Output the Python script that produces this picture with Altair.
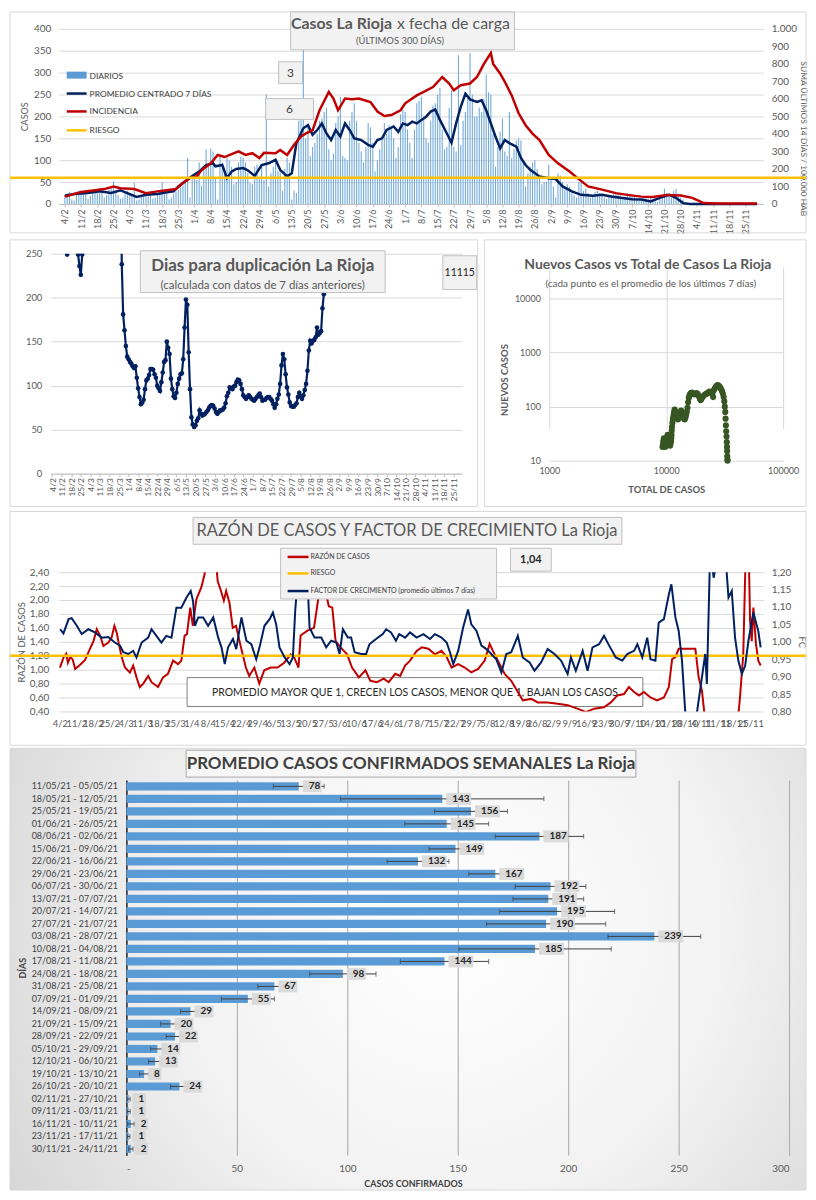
import json
import altair as alt
import pandas as pd

FONT = "Lato"
GRID = "#D9D9D9"
LBL = "#595959"
DARK = "#404040"
NAVY = "#002060"
RED = "#C00000"
YEL = "#FFC000"
BLUE = "#5B9BD5"
FRAME = "#D9D9D9"
BOXF = "#F2F2F2"
BOXS = "#BFBFBF"
GREEN = "#375623"
VW = 800  # width of every row view

# ---------------- data ----------------
week_labels = ["4/2", "11/2", "18/2", "25/2", "4/3", "11/3", "18/3", "25/3", "1/4", "8/4",
               "15/4", "22/4", "29/4", "6/5", "13/5", "20/5", "27/5", "3/6", "10/6", "17/6",
               "24/6", "1/7", "8/7", "15/7", "22/7", "29/7", "5/8", "12/8", "19/8", "26/8",
               "2/9", "9/9", "16/9", "23/9", "30/9", "7/10", "14/10", "21/10", "28/10", "4/11",
               "11/11", "18/11", "25/11"]
week_ticks = [7 * i for i in range(len(week_labels))]

daily_cases = [
    20, 25, 28, 10, 8, 22, 30,
    26, 28, 22, 12, 18, 30, 32,
    30, 25, 35, 15, 20, 33, 36,
    52, 28, 20, 12, 15, 25, 30,
    22, 18, 48, 8, 10, 16, 20,
    25, 20, 28, 12, 14, 22, 30,
    50, 22, 25, 10, 15, 24, 28,
    32, 38, 42, 48, 105, 15, 62,
    68, 55, 95, 42, 80, 125, 90,
    127, 120, 60, 10, 110, 95, 70,
    105, 100, 85, 45, 50, 95, 108,
    105, 95, 70, 48, 45, 85, 90,
    60, 90, 55, 250, 40, 70, 85,
    95, 75, 78, 30, 80, 105, 95,
    10, 30, 25, 190, 200, 390, 150,
    175, 110, 130, 140, 160, 190, 195,
    210, 220, 125, 100, 115, 185, 200,
    245, 110, 105, 100, 190, 210, 230,
    190, 140, 120, 95, 130, 185, 175,
    140, 75, 100, 125, 150, 185, 160,
    180, 175, 150, 105, 130, 205, 215,
    210, 170, 140, 105, 170, 230, 235,
    245, 200, 150, 140, 190, 225, 230,
    250, 265, 170, 125, 130, 220, 260,
    130, 120, 340, 135, 190, 210, 245,
    345, 250, 200, 200, 220, 210, 240,
    295, 255, 250, 160, 85, 130, 165,
    195, 120, 110, 210, 105, 125, 145,
    150, 145, 95, 40, 70, 85, 95,
    100, 80, 60, 45, 50, 50, 90,
    60, 40, 15, 70, 65, 50, 35,
    45, 40, 30, 20, 15, 50, 55,
    30, 35, 25, 15, 20, 28, 30,
    25, 22, 15, 12, 18, 20, 22,
    22, 25, 20, 10, 12, 25, 24,
    18, 20, 12, 8, 10, 15, 18,
    12, 15, 8, 6, 5, 12, 18,
    35, 25, 20, 15, 30, 35, 20,
    15, 10, 5, 2, 1, 2, 1,
    1, 2, 0, 0, 1, 2, 1,
    2, 1, 3, 0, 0, 1, 2,
    1, 2, 1, 0, 0, 2, 1,
    3, 2, 1, 0, 2, 1,
]
day_index = list(range(len(daily_cases)))

avg_days = [0, 4, 10, 15, 20, 24, 27, 31, 35, 40, 44, 47, 49, 52, 55, 58, 61, 64, 65, 68,
            70, 72, 74, 77, 79, 82, 85, 88, 91, 93, 96, 98, 100, 103, 105, 107, 109, 111, 113, 115,
            117, 119, 121, 123, 125, 128, 131, 133, 135, 137, 139, 142, 144, 146, 148, 150, 152, 154, 156, 158,
            160, 162, 165, 167, 169, 171, 173, 175, 178, 180, 182, 184, 186, 188, 190, 192, 195, 197, 199, 201,
            205, 209, 212, 215, 219, 223, 228, 232, 236, 240, 245, 249, 253, 257, 261, 264, 267, 270, 299]
avg_vals = [19, 23, 25, 29, 25, 31, 25, 16, 21, 23, 27, 29, 40, 52, 64, 74, 89, 93, 86, 89,
            59, 74, 80, 82, 77, 64, 89, 93, 101, 78, 63, 70, 139, 173, 180, 158, 169, 184, 161, 146,
            169, 154, 184, 169, 150, 146, 135, 131, 146, 150, 169, 177, 165, 184, 180, 188, 184, 192, 199, 211,
            216, 192, 161, 140, 184, 222, 252, 239, 233, 237, 214, 184, 154, 127, 146, 139, 131, 105, 89, 78,
            63, 59, 57, 40, 29, 21, 19, 21, 17, 14, 11, 10, 6, 14, 21, 14, 2, 0, 0]

inc_days = [0, 7, 13, 17, 21, 24, 30, 35, 40, 44, 48, 51, 54, 57, 59, 63, 66, 69, 72, 75,
            78, 81, 84, 86, 91, 93, 96, 99, 102, 104, 107, 110, 114, 116, 118, 121, 124, 127, 132, 135,
            138, 141, 145, 147, 152, 155, 159, 163, 166, 168, 171, 175, 178, 181, 184, 185, 188, 190, 193, 196,
            199, 202, 205, 209, 213, 218, 222, 226, 232, 238, 243, 249, 254, 260, 266, 271, 276, 282, 299]
inc_vals = [42, 68, 78, 85, 100, 90, 85, 62, 72, 78, 85, 120, 148, 158, 192, 232, 280, 268, 285, 300,
            280, 290, 262, 292, 290, 308, 280, 338, 385, 402, 422, 535, 640, 602, 535, 602, 598, 602, 582, 528,
            502, 508, 535, 575, 620, 640, 668, 725, 688, 650, 678, 688, 725, 800, 862, 800, 745, 698, 620, 518,
            450, 402, 365, 280, 232, 185, 142, 100, 82, 62, 52, 42, 40, 52, 48, 35, 5, 3, 3]
risk_cases = [60]

# duplication days (three visible stretches)
dup1_days = [11]
dup1_vals = [249]
dup2_days = [18, 19, 20, 21, 22, 23]
dup2_vals = [320, 249, 236, 226, 249, 320]
dup3_days = list(range(50, 202))
dup3_vals = [400, 238, 181, 163, 145, 133, 130, 127, 125, 122,
             120, 122, 109, 97, 87, 79, 81, 84, 96, 106,
             108, 112, 119, 119, 118, 113, 109, 100, 97, 94,
             104, 115, 127, 129, 150, 143, 136, 108, 96, 88,
             86, 92, 102, 108, 113, 114, 130, 166, 198, 192,
             138, 96, 64, 56, 53, 55, 60, 63, 72, 68,
             66, 67, 68, 70, 72, 75, 77, 78, 77, 74,
             70, 68, 70, 72, 72, 73, 75, 80, 88, 92,
             98, 97, 96, 99, 100, 104, 107, 106, 102, 96,
             89, 87, 85, 87, 89, 87, 85, 84, 83, 85,
             87, 89, 91, 87, 83, 84, 84, 86, 87, 87,
             85, 83, 79, 75, 79, 85, 90, 102, 123, 136,
             130, 113, 98, 90, 81, 77, 76, 76, 78, 80,
             87, 92, 88, 85, 89, 95, 102, 117, 140, 151,
             148, 151, 152, 155, 166, 158, 160, 162, 188, 204,
             222, 280]

scatter_total = [9300, 9400, 9450, 9500, 9550, 9600, 9650, 9700, 9800, 9900, 10000, 10100, 10200, 10300,
                 10400, 10500, 10600, 10700, 10800, 10900, 11000, 11050,
                 11100, 11150, 11200, 11300, 11400, 11500, 11600, 11700, 11800, 11900, 12000, 12200, 12400,
                 12600, 12800, 13000, 13200, 13400, 13600, 13800, 14000, 14200, 14400, 14600, 14800, 15000, 15200,
                 15400, 15600, 15800, 16000, 16300, 16600, 17000, 17400, 17800, 18200, 18600, 19000, 19400, 19700,
                 20000, 20500, 21000, 21500, 22000, 22500, 23000, 23500, 24000, 24500, 25000, 25200, 25500, 26000,
                 26500, 27000, 27500, 28000, 28500, 29000, 29500, 30000, 30500, 31000, 31400, 31700, 32000, 32200,
                 32400, 32600, 32800, 33000, 33100, 33200, 33300, 33400, 33450]
scatter_new = [18, 20, 22, 24, 26, 23, 21, 19, 18, 20, 22, 25, 28, 30,
               27, 24, 22, 20, 19, 21, 23, 26,
               30, 36, 42, 50, 58, 65, 72, 80, 88, 82, 75, 68, 62,
               58, 62, 70, 78, 85, 80, 72, 65, 60, 58, 62, 70, 80, 95,
               120, 145, 160, 170, 178, 182, 175, 168, 172, 178, 170, 155, 140, 132,
               138, 150, 160, 168, 172, 178, 185, 190, 182, 175, 185, 150, 200, 215,
               230, 242, 250, 245, 235, 225, 210, 195, 175, 150, 125, 100, 80, 60,
               45, 35, 28, 22, 18, 15, 12, 10.5, 10]

razon_days = [0, 1.6, 2.7, 3.4, 4.4, 5.4, 6.5, 8.6, 10.7, 12.4, 14.3, 15.7, 17.1, 18.5, 20.6, 22, 23.2, 24.2,
              25.1, 26.3, 27.7, 29.8, 31.2, 32.6, 34, 35.5, 37.6, 39, 41.8, 43.9, 46, 48.2, 50.3, 51.7, 53.1,
              54.1, 55.5, 56.6, 58.1, 60.2, 61.6, 63, 65.5, 67.2, 68.6, 69.8, 70.8, 72.2, 73.6, 75, 77.1, 79.2,
              80.6, 82.8, 84.9, 87, 89.8, 92.7, 95.5, 98.3, 99.7, 101.6, 102.5, 105.4, 108.2, 110.3, 111.7,
              113.1, 114.5, 116, 117.4, 119.5, 122.3, 124.4, 127.3, 130.1, 132.2, 135, 137.9, 140, 142.8,
              144.9, 147, 149.1, 151.9, 154.1, 156.9, 159.7, 162.5, 164.7, 166.8, 169.6, 172.4, 175.2, 178.1,
              180.9, 183, 184.4, 186.5, 189.4, 192.2, 195, 197.1, 200.7, 203.5, 207.7, 212, 216.2, 220.4, 224,
              227.5, 231.7, 234.6, 237.4, 240.2, 242.3, 244.5, 246.6, 248.7, 251.5, 254.3, 257.2, 259.3, 260.7,
              262.1, 263.5, 265.6, 267.8, 270.6, 272, 273.4, 275, 288.5, 289.6, 291, 292.2, 293.2, 293.9,
              294.6, 295.3, 296.4, 297.4, 298.4]
razon_vals = [1.03, 1.18, 1.23, 1.10, 1.18, 1.15, 1.01, 1.07, 1.14, 1.27, 1.41, 1.58, 1.49, 1.34, 1.39, 1.46,
              1.63, 1.53, 1.37, 1.18, 1.03, 0.96, 1.06, 0.89, 0.75, 0.80, 0.91, 0.82, 0.75, 0.89, 0.94, 1.13,
              1.08, 1.13, 1.49, 1.51, 1.89, 1.63, 2.01, 2.18, 2.37, 2.9, 2.9, 2.27, 2.13, 1.99, 2.13, 1.96,
              1.60, 1.63, 1.32, 1.03, 0.91, 1.03, 0.80, 0.99, 1.03, 1.03, 1.10, 1.22, 1.18, 1.03, 1.49, 1.56,
              1.60, 2.08, 2.37, 2.13, 1.91, 1.89, 1.41, 1.32, 1.22, 1.03, 0.89, 0.99, 0.84, 0.82, 0.87, 0.82,
              0.94, 0.91, 1.06, 1.13, 1.27, 1.32, 1.30, 1.22, 1.27, 1.18, 1.03, 1.08, 1.03, 0.96, 1.01, 1.13,
              1.37, 1.27, 1.13, 0.94, 0.84, 0.68, 0.56, 0.58, 0.53, 0.53, 0.51, 0.49, 0.44, 0.39, 0.44, 0.46,
              0.53, 0.63, 0.65, 0.75, 0.68, 0.63, 0.68, 0.60, 0.56, 0.60, 0.75, 1.15, 1.18, 1.30, 1.30, 1.30,
              1.30, 0.89, 0.70, 0.2, 0.2, 0.60, 1.22, 2.9, 2.9, 1.70, 1.41, 1.89, 1.37, 1.13, 1.06]
risk_razon = [1.2]

fc_days = [0.1, 1.5, 3.7, 5, 7.2, 9.3, 12.1, 14.9, 17.8, 20.6, 23.4, 25.6, 27, 29.1, 31.2, 32.6, 34.8, 37.6,
           39, 41.1, 43.2, 45.3, 47.5, 49.6, 51.7, 53.9, 55.7, 56.7, 57.5, 58.9, 61, 63.1, 65.3, 67.4, 68.8,
           70.2, 71.6, 73.7, 75.1, 77.3, 79.4, 81.5, 83.6, 85, 87.1, 89.3, 90.7, 92.1, 93.5, 95.7, 97.8, 99.2,
           100.2, 101.3, 102, 104.9, 106.3, 108.4, 111.3, 113.4, 115.5, 117.7, 119.1, 120.5, 122.6, 124,
           125.5, 128.3, 130.4, 131.8, 134.6, 137.5, 138.9, 141, 143.1, 144.5, 147, 149.1, 151.9, 154.8,
           157.6, 159.7, 162.5, 164.7, 166.1, 167.5, 169.6, 171.7, 173.8, 175.2, 177.4, 179.5, 181.6, 183.7,
           185.8, 188, 190.1, 192.2, 195, 197.1, 200, 202.1, 204.9, 207.7, 210.6, 213.4, 216.2, 217.6, 219.7,
           222.6, 224.7, 226.8, 229.6, 231.7, 233.9, 236.7, 239.5, 241.6, 244.5, 245.9, 248, 250.1, 251.5,
           253.6, 255, 257.2, 259.3, 260.4, 262.1, 263.5, 264.9, 266.3, 267, 269.9, 271.3, 273.4, 274.8,
           275.5, 276.9, 278.4, 280.5, 283.3, 284.7, 286.1, 287.5, 288.9, 290.4, 291.8, 293.2, 295.3, 297.4,
           298.4]
fc_vals = [1.036, 1.024, 1.065, 1.068, 1.046, 1.022, 1.036, 1.027, 1.012, 1.014, 0.998, 0.989, 0.970, 0.965,
           0.974, 0.955, 0.998, 1.012, 1.036, 1.017, 0.998, 1.017, 1.012, 1.098, 1.098, 1.127, 1.146, 1.117,
           1.046, 1.070, 1.070, 1.046, 1.070, 1.012, 0.984, 0.936, 0.984, 1.008, 0.979, 1.070, 1.003, 0.993,
           0.950, 0.984, 1.046, 1.065, 1.084, 1.050, 0.984, 0.955, 0.936, 0.955, 1.089, 1.184, 1.26, 1.26,
           1.041, 1.012, 1.012, 0.984, 1.003, 0.998, 0.965, 1.036, 1.012, 1.012, 0.970, 0.965, 0.965, 0.993,
           1.008, 1.022, 1.036, 1.027, 1.003, 1.022, 1.012, 1.027, 1.012, 1.022, 1.008, 1.022, 1.012, 0.998,
           0.970, 0.936, 0.974, 1.041, 1.093, 1.050, 1.031, 0.989, 0.979, 0.965, 0.950, 0.912, 0.965, 0.970,
           1.017, 0.955, 0.941, 0.917, 0.941, 0.979, 0.965, 0.946, 0.908, 0.955, 0.917, 0.974, 0.917, 0.984,
           0.993, 1.017, 0.989, 0.955, 0.946, 0.965, 0.974, 0.993, 0.955, 1.012, 0.950, 0.946, 1.055, 1.065,
           1.136, 1.165, 1.070, 1.031, 0.946, 0.798, 0.70, 0.70, 0.798, 0.898, 0.965, 0.879, 1.26, 1.184,
           1.26, 1.26, 1.127, 1.146, 1.012, 0.946, 0.908, 0.931, 1.003, 1.084, 1.031, 0.984]

week_ranges = ["11/05/21 - 05/05/21", "18/05/21 - 12/05/21", "25/05/21 - 19/05/21", "01/06/21 - 26/05/21",
               "08/06/21 - 02/06/21", "15/06/21 - 09/06/21", "22/06/21 - 16/06/21", "29/06/21 - 23/06/21",
               "06/07/21 - 30/06/21", "13/07/21 - 07/07/21", "20/07/21 - 14/07/21", "27/07/21 - 21/07/21",
               "03/08/21 - 28/07/21", "10/08/21 - 04/08/21", "17/08/21 - 11/08/21", "24/08/21 - 18/08/21",
               "31/08/21 - 25/08/21", "07/09/21 - 01/09/21", "14/09/21 - 08/09/21", "21/09/21 - 15/09/21",
               "28/09/21 - 22/09/21", "05/10/21 - 29/09/21", "12/10/21 - 06/10/21", "19/10/21 - 13/10/21",
               "26/10/21 - 20/10/21", "02/11/21 - 27/10/21", "09/11/21 - 03/11/21", "16/11/21 - 10/11/21",
               "23/11/21 - 17/11/21", "30/11/21 - 24/11/21"]
weekly_avg = [78, 143, 156, 145, 187, 149, 132, 167, 192, 191, 195, 190, 239, 185, 144, 98, 67, 55, 29, 20,
              22, 14, 13, 8, 24, 1, 1, 2, 1, 2]
weekly_err = [11.5, 46, 16.5, 19, 20, 12, 14, 12, 16, 16, 26, 27, 21, 34.5, 20, 15, 7.5, 12, 4.5, 4.5,
              4, 3, 3, 2, 4, 0.7, 0.7, 1.5, 0.6, 1]
e_ticks = [0, 50, 100, 150, 200, 250, 300]

# ---------------- helpers (decoration) ----------------
one = pd.DataFrame({"k": [0]})


def frame(x1, x2, y1, y2, stroke=FRAME):
    return alt.Chart(one).mark_rect(fill="transparent", stroke=stroke, strokeWidth=1).encode(
        x=alt.value(x1), x2=alt.value(x2), y=alt.value(y1), y2=alt.value(y2))


def box(x1, x2, y1, y2, fill=BOXF, stroke=BOXS, sw=1, opacity=1):
    return alt.Chart(one).mark_rect(fill=fill, stroke=stroke, strokeWidth=sw, opacity=opacity).encode(
        x=alt.value(x1), x2=alt.value(x2), y=alt.value(y1), y2=alt.value(y2))


def label(t, x, y, size=10, weight="normal", color=LBL, align="center", baseline="middle"):
    return alt.Chart(one).mark_text(text=t, font=FONT, fontSize=size, fontWeight=weight, color=color,
                                    align=align, baseline=baseline).encode(x=alt.value(x), y=alt.value(y))


def seg(x1, x2, y, color, width):
    return alt.Chart(one).mark_rule(color=color, strokeWidth=width).encode(
        x=alt.value(x1), x2=alt.value(x2), y=alt.value(y))


def swatch(x1, x2, y1, y2, color):
    return alt.Chart(one).mark_rect(color=color).encode(
        x=alt.value(x1), x2=alt.value(x2), y=alt.value(y1), y2=alt.value(y2))


def spacer(h):
    return alt.Chart(one).mark_point(opacity=0).encode(
        x=alt.X("k:Q", axis=None), y=alt.Y("k:Q", axis=None)).properties(width=VW, height=h)


LE = json.dumps(week_labels) + "[round(datum.value / 7)]"
COMMA = "replace(format(datum.value, '.2f'), '.', ',')"

# ---------------- Row A : Casos La Rioja x fecha de carga ----------------
HA = 176
dfA_bars = pd.DataFrame({"d": day_index, "cases": daily_cases})
dfA_avg = pd.DataFrame({"d": avg_days, "cases": avg_vals})
dfA_inc = pd.DataFrame({"d": inc_days, "inc": inc_vals})
dfA_risk = pd.DataFrame({"cases": risk_cases})

xA = alt.X("d:Q", scale=alt.Scale(domain=[-0.5, 299.5], range=[49, 757], nice=False, zero=False),
           axis=alt.Axis(values=week_ticks, labelExpr=LE, labelAngle=-90, labelFontSize=9, labelColor=LBL,
                         grid=False, domainColor="#BFBFBF", tickColor="#BFBFBF", tickSize=3, labelPadding=2,
                         labelOverlap=False, labelFlush=False, labelBound=False, title=None))
yA_axis = alt.Axis(values=list(range(0, 401, 50)), grid=True, gridColor=GRID, domain=False, ticks=False,
                   labelColor=LBL, labelFontSize=10, labelPadding=8, title="CASOS", titleFontSize=9,
                   titleFontWeight="normal", titleColor=LBL, titlePadding=4, offset=-49)
yA = alt.Y("cases:Q", scale=alt.Scale(domain=[0, 400], nice=False), axis=yA_axis)

barsA = alt.Chart(dfA_bars).mark_bar(color=BLUE, width=1.1, opacity=0.85).encode(xA, yA)
avgA = alt.Chart(dfA_avg).mark_line(color=NAVY, strokeWidth=2.5).encode(xA, yA)
leftA = alt.layer(barsA, avgA)
incA = alt.Chart(dfA_inc).mark_line(color=RED, strokeWidth=2.5).encode(
    xA, alt.Y("inc:Q", scale=alt.Scale(domain=[0, 1000], nice=False),
              axis=alt.Axis(orient="right", values=list(range(0, 1001, 100)),
                            labelExpr="datum.value == 1000 ? '1.000' : datum.label", grid=False,
                            domain=False, ticks=False, labelColor=LBL, labelFontSize=10, labelPadding=8,
                            title="SUMA  ÚLTIMOS 14 DÍAS / 100.000 HAB", titleAngle=90, titleFontSize=8.5,
                            titleFontWeight="normal", titleColor=LBL, titlePadding=2, titleY=110,
                            titleAlign="center", offset=-43)))
riskA = alt.Chart(dfA_risk).mark_rule(color=YEL, strokeWidth=2.5).encode(
    alt.Y("cases:Q", scale=alt.Scale(domain=[0, 400], nice=False), axis=None))

rowA = alt.layer(
    frame(0, VW, -17, 205),
    leftA, incA, riskA,
    box(282, 507, -17, 21),
    label("Casos La Rioja", 384, -5, size=16, weight="bold", align="right"),
    label("x fecha de carga", 389, -5, size=16, align="left"),
    label("(ÚLTIMOS 300 DÍAS)", 392, 12, size=9.5),
    box(270, 294, 33, 55), label("3", 282, 44, size=12, color=DARK),
    box(257, 305, 70, 91), label("6", 281, 80.5, size=12, color=DARK),
    swatch(57, 77, 43, 50, BLUE), label("DIARIOS", 80, 47, size=8.5, color=DARK, align="left"),
    seg(57, 77, 65, NAVY, 2.5), label("PROMEDIO CENTRADO 7 DÍAS", 80, 65, size=8.5, color=DARK, align="left"),
    seg(57, 77, 83, RED, 2.5), label("INCIDENCIA", 80, 83, size=8.5, color=DARK, align="left"),
    seg(57, 77, 102, YEL, 2.5), label("RIESGO", 80, 102, size=8.5, color=DARK, align="left"),
).resolve_scale(y="independent").properties(width=VW, height=HA)

# ---------------- Row Mid : duplication (B) + log scatter (C) ----------------
HM = 221
dfB = pd.DataFrame({
    "d": dup1_days + dup2_days + dup3_days,
    "v": dup1_vals + dup2_vals + dup3_vals,
    "seg": ["a"] * len(dup1_days) + ["b"] * len(dup2_days) + ["c"] * len(dup3_days),
})
xB = alt.X("d:Q", scale=alt.Scale(domain=[-1, 300], range=[41, 454], nice=False, zero=False),
           axis=alt.Axis(values=week_ticks, labelExpr=LE, labelAngle=-90, labelFontSize=8.5, labelColor=LBL,
                         grid=False, domainColor="#BFBFBF", tickColor="#BFBFBF", tickSize=3, labelPadding=1,
                         labelOverlap=False, labelFlush=False, labelBound=False, title=None, orient="bottom"))
yB = alt.Y("v:Q", scale=alt.Scale(domain=[0, 250], range=[HM, 0], nice=False),
           axis=alt.Axis(values=[0, 50, 100, 150, 200, 250], grid=True, gridColor=GRID, domain=False,
                         ticks=False, labelColor=LBL, labelFontSize=9.5, labelPadding=9, title=None,
                         orient="left", offset=-41))
lineB = alt.Chart(dfB).mark_line(color=NAVY, strokeWidth=2.2, clip=True).encode(xB, yB, detail="seg:N")
ptsB = alt.Chart(dfB).mark_point(filled=True, color=NAVY, size=22, opacity=1, clip=True).encode(xB, yB)
groupB = alt.layer(lineB, ptsB)

dfC = pd.DataFrame({"total": scatter_total, "new": scatter_new})
xC = alt.X("total:Q", scale=alt.Scale(type="log", domain=[1000, 100000], range=[542, 777], nice=False),
           axis=alt.Axis(values=[1000, 10000, 100000], format="d", grid=True, gridColor=GRID, domain=False,
                         ticks=False, labelColor=LBL, labelFontSize=9, labelPadding=6, labelFlush=False,
                         title="TOTAL DE CASOS", titleFontSize=9.5, titleFontWeight="bold", titleColor=LBL,
                         titlePadding=9, orient="bottom", offset=-13))
yC = alt.Y("new:Q", scale=alt.Scale(type="log", domain=[10, 10000], range=[208, 45], nice=False),
           axis=alt.Axis(values=[10, 100, 1000, 10000], format="d", grid=True, gridColor=GRID, domain=False,
                         ticks=False, labelColor=LBL, labelFontSize=9, labelPadding=9, labelFlush=False,
                         title="NUEVOS CASOS", titleFontSize=9.5, titleFontWeight="bold", titleColor=LBL,
                         titlePadding=5, orient="left", offset=-542))
ptsC = alt.Chart(dfC).mark_circle(color=GREEN, size=38, opacity=1).encode(xC, yC)

rowMid = alt.layer(
    frame(0, 470, -14, 254),
    frame(477, VW, -14, 254),
    groupB, ptsC,
    box(131, 377, -3, 39),
    label("Dias para duplicación La Rioja", 254, 12, size=17, weight="bold"),
    label("(calculada con datos de 7 días anteriores)", 254, 32, size=11.5),
    box(435, 469, 2, 36), label("11115", 452, 19, size=10.5, color="#262626"),
    label("Nuevos Casos vs Total de Casos La Rioja", 641, 11, size=14, weight="bold"),
    label("(cada punto es el promedio de los últimos 7 días)", 644, 30, size=10),
).resolve_scale(x="independent", y="independent").properties(width=VW, height=HM)

# ---------------- Row D : razón de casos y factor de crecimiento ----------------
HD = 140
dfD_r = pd.DataFrame({"d": razon_days, "v": razon_vals})
dfD_f = pd.DataFrame({"d": fc_days, "fc": fc_vals})
dfD_risk = pd.DataFrame({"v": risk_razon})
xD = alt.X("d:Q", scale=alt.Scale(domain=[-0.5, 299.5], range=[49, 757], nice=False, zero=False),
           axis=alt.Axis(values=week_ticks, labelExpr=LE, labelAngle=0, labelFontSize=9.5, labelColor=LBL,
                         grid=False, domain=False, ticks=False, labelPadding=7, labelOverlap=False,
                         labelFlush=False, labelBound=False, title=None))
yD_axis = alt.Axis(values=[0.4, 0.6, 0.8, 1.0, 1.2, 1.4, 1.6, 1.8, 2.0, 2.2, 2.4], labelExpr=COMMA,
                   grid=True, gridColor=GRID, domain=False, ticks=False, labelColor=LBL, labelFontSize=10,
                   labelPadding=10, title="RAZÓN DE CASOS", titleFontSize=9.5, titleFontWeight="normal",
                   titleColor=LBL, titlePadding=3, orient="left", offset=-49)
yD = alt.Y("v:Q", scale=alt.Scale(domain=[0.4, 2.4], nice=False, zero=False), axis=yD_axis)
redD = alt.Chart(dfD_r).mark_line(color=RED, strokeWidth=2, clip=True).encode(xD, yD)
riskD = alt.Chart(dfD_risk).mark_rule(color=YEL, strokeWidth=2.5).encode(yD)
leftD = alt.layer(redD, riskD)
fcD = alt.Chart(dfD_f).mark_line(color=NAVY, strokeWidth=2, clip=True).encode(
    xD, alt.Y("fc:Q", scale=alt.Scale(domain=[0.8, 1.2], nice=False, zero=False),
              axis=alt.Axis(orient="right", values=[0.8, 0.85, 0.9, 0.95, 1.0, 1.05, 1.1, 1.15, 1.2],
                            labelExpr=COMMA, grid=False, domain=False, ticks=False, labelColor=LBL,
                            labelFontSize=10, labelPadding=8, title="FC", titleAngle=90, titleFontSize=9.5,
                            titleFontWeight="normal", titleColor=LBL, titlePadding=6, offset=-43)))

rowD = alt.layer(
    frame(0, VW, -61, 174),
    box(178, 636, 106, 135, fill="white", stroke="#7F7F7F"),
    label("PROMEDIO MAYOR QUE 1, CRECEN LOS CASOS, MENOR QUE 1, BAJAN LOS CASOS", 407, 121, size=10.5,
          color="#262626"),
    leftD, fcD,
    box(184, 615, -55, -28),
    label("RAZÓN DE CASOS Y FACTOR DE CRECIMIENTO La Rioja", 399, -41, size=16.5),
    box(272, 489, -24, 27),
    seg(279, 300, -15.3, RED, 2.5), label("RAZÓN DE CASOS", 302, -15.3, size=7, color=DARK, align="left"),
    seg(279, 300, 1.3, YEL, 2.5), label("RIESGO", 302, 1.3, size=7, color=DARK, align="left"),
    seg(279, 300, 19, NAVY, 2.5),
    label("FACTOR DE CRECIMIENTO (promedio últimos 7 días)", 302, 19, size=7, color=DARK, align="left"),
    box(503, 544, -24, -1), label("1,04", 523.5, -12.5, size=11, weight="bold", color="#262626"),
).resolve_scale(y="independent").properties(width=VW, height=HD)

# ---------------- gradient background row (sits under panel E) ----------------
GAP_DE = 69
grad = alt.RadialGradient(gradient="radial", x1=0.55, y1=0.45, x2=0.55, y2=0.45, r1=0, r2=0.78,
                          stops=[alt.GradientStop(color="#FFFFFF", offset=0),
                                 alt.GradientStop(color="#F2F2F2", offset=0.45),
                                 alt.GradientStop(color="#C9C9C9", offset=1)])
bgRow = alt.Chart(one).mark_rect(fill=grad, stroke=FRAME, strokeWidth=1).encode(
    x=alt.value(0), x2=alt.value(VW), y=alt.value(37), y2=alt.value(481)).properties(width=VW, height=GAP_DE)

# ---------------- Row E : promedio semanal ----------------
HE = 377
dfE = pd.DataFrame({"week": week_ranges, "v": weekly_avg, "err": weekly_err,
                    "digits": [str(len(str(v))) for v in weekly_avg]})
xE_scale = alt.Scale(domain=[0, 300], range=[117, 783], nice=False)
yE_scale = alt.Scale(domain=week_ranges, paddingInner=0.35, paddingOuter=0.175)
xE_axis = alt.Axis(values=e_ticks, labelExpr="datum.value == 0 ? '-' : datum.label",
                   grid=True, gridColor="#A6A6A6", domain=False, ticks=False, labelColor=LBL,
                   labelFontSize=10, labelPadding=8, title="CASOS CONFIRMADOS", titleFontSize=9,
                   titleFontWeight="bold", titleColor=DARK, titleX=405, titleY=24, titleAlign="center")
yE_axis = alt.Axis(domain=True, domainColor="#000000", domainWidth=1.2, ticks=False, labelColor=DARK,
                   labelFontSize=9, labelPadding=9, title="DÍAS", titleFontSize=9,
                   titleFontWeight="bold", titleColor=DARK, titlePadding=4, offset=-117)
yE = alt.Y("week:N", scale=yE_scale, sort=week_ranges, axis=yE_axis)


def xe(field):
    return alt.X(field, scale=xE_scale, axis=xE_axis)


barsE = alt.Chart(dfE).mark_bar(color=BLUE).encode(xe("v:Q"), yE)
errE = alt.Chart(dfE).transform_calculate(lo="datum.v - datum.err", hi="datum.v + datum.err")
err_line = errE.mark_rule(color=DARK, strokeWidth=1).encode(xe("lo:Q"), x2="hi:Q", y=yE)
err_lo = errE.mark_tick(color=DARK, thickness=1, size=5).encode(xe("lo:Q"), y=yE)
err_hi = errE.mark_tick(color=DARK, thickness=1, size=5).encode(xe("hi:Q"), y=yE)
box_paths = ["M0.4,-0.6L1.75,-0.6L1.75,0.6L0.4,0.6Z",
             "M0.4,-0.6L2.3,-0.6L2.3,0.6L0.4,0.6Z",
             "M0.4,-0.6L2.9,-0.6L2.9,0.6L0.4,0.6Z"]
lblbox = alt.Chart(dfE).mark_point(filled=True, color="#D9D9D9", size=400, opacity=0.95, strokeWidth=0).encode(
    xe("v:Q"), y=yE,
    shape=alt.Shape("digits:N", scale=alt.Scale(domain=["1", "2", "3"], range=box_paths), legend=None))
lbltxt = alt.Chart(dfE).mark_text(align="left", dx=10, font=FONT, fontSize=10, fontWeight="bold",
                                  color="#262626").encode(xe("v:Q"), y=yE, text="v:Q")

rowE = alt.layer(
    barsE, err_line, err_lo, err_hi, lblbox, lbltxt,
    box(177, 629, -30, -3, fill="#F7F7F7", stroke="#A6A6A6"),
    label("PROMEDIO CASOS CONFIRMADOS SEMANALES La Rioja", 403, -16, size=17, weight="bold", color=DARK),
).properties(width=VW, height=HE)

# ---------------- layout ----------------
chart = alt.vconcat(
    spacer(17), rowA, spacer(50), rowMid, spacer(99), rowD, bgRow, rowE,
    spacing=0, bounds="flush",
).properties(padding=0, background="white").configure(font=FONT).configure_view(stroke=None)

chart.save("out.html", embed_options={"renderer": "svg", "actions": False})
